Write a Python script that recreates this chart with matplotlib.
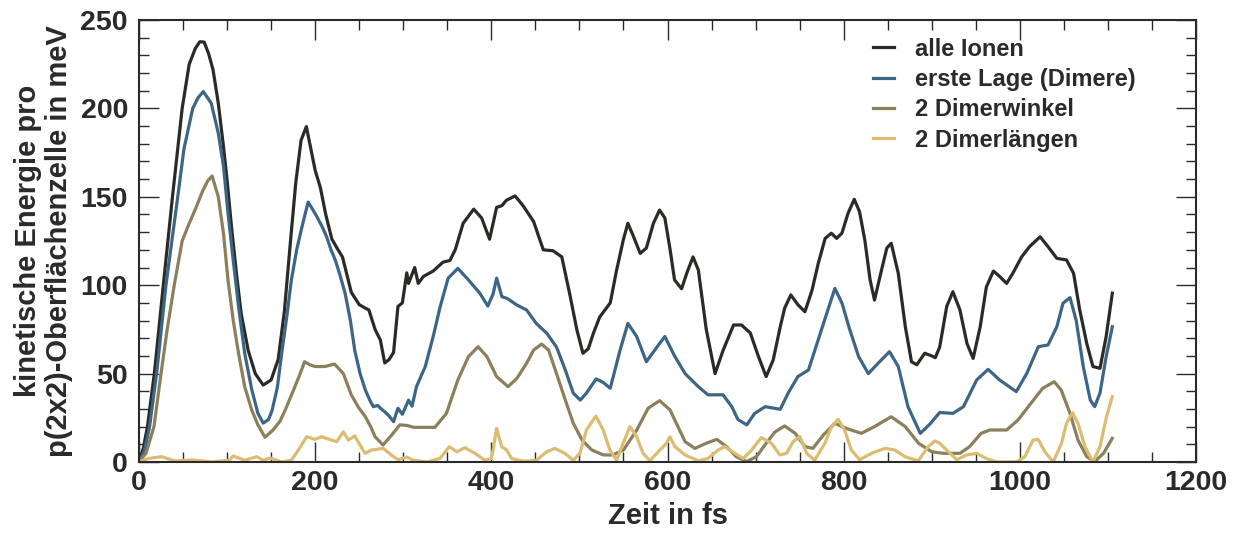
import matplotlib
matplotlib.use('Agg')
import matplotlib.pyplot as plt
from matplotlib.ticker import MultipleLocator

# kinetic energy per p(2x2) surface cell (time in fs, energy in meV)
t_alle = [0, 5, 9.6, 17.4, 27.6, 38, 49, 57, 64, 69, 74, 79, 84, 90, 96, 100, 105, 111, 116, 124, 132,
          141, 150, 158, 165, 172, 178, 184, 190, 196, 200, 206, 212, 219, 226, 231, 241, 250, 257,
          261, 268, 274, 279, 284, 289, 294, 299, 304, 306, 313, 317, 323, 334, 345, 353, 359, 368,
          380, 389, 398, 406, 412, 417, 427, 436, 448, 459, 470, 480, 489, 497, 504, 510, 516, 523,
          535, 542, 550, 555, 561, 569, 576, 584, 591, 597, 603, 608, 616, 622, 629, 635, 644, 654,
          663, 675, 684, 694, 703, 712, 720, 728, 733, 740, 748, 756, 764, 771, 779, 786, 792, 798,
          805, 812, 818, 824, 830, 835, 843, 849, 854, 862, 870, 877, 883, 892, 900, 904, 909, 917,
          924, 932, 940, 947, 955, 962, 970, 977, 985, 992, 1002, 1011, 1023, 1032, 1042, 1053,
          1061, 1068, 1076, 1083, 1091, 1098, 1105]
e_alle = [0, 8, 20, 50, 100, 150, 200, 225, 234, 237.7, 237.5, 231, 222, 203, 178, 159.5, 133, 105, 84, 63, 50,
          43.5, 46.4, 58, 85, 125, 158, 182, 189.7, 175, 165, 155, 140, 126, 120, 116, 96, 89, 87,
          86, 75, 69, 56, 58, 62, 88, 90, 107, 101, 110, 101, 105, 108, 113, 114, 120, 135,
          143, 138, 126, 144, 145, 148, 150.5, 145, 136, 120, 119.5, 116, 95, 75, 61.5, 64, 73, 82,
          90, 108, 126, 135, 128, 118, 121, 135, 142.5, 138, 120, 103, 98, 107, 116, 108.6, 75, 50,
          63, 77.5, 77.5, 73, 60, 48.3, 57.7, 76.5, 87, 94.5, 89, 85, 97, 112, 126.5, 129.4, 126.5, 129.4,
          140.7, 148.6, 141.6, 125.6, 103, 91.6, 108.6, 121, 123.7, 106.7, 76.5, 56.7, 55, 61.5, 60, 59, 65, 88,
          96.3, 86, 67, 58.6, 76.5, 99, 108, 105, 101, 106.7, 116, 121.8, 127.4, 121.8, 115.2, 114.3,
          106.7, 86, 67, 54, 53, 71, 95.5]

t_lage = [0, 6, 12, 20, 30.6, 44, 51, 61, 67, 73, 82, 90, 96, 101, 107, 113, 120, 128, 135, 141, 147,
          151, 157, 162, 168, 173, 179, 185, 192, 197, 202, 208, 213, 218, 223, 228, 234,
          240, 245, 251, 257, 262, 266, 271, 275, 279, 284, 289, 294, 299, 306, 310, 315, 325, 334,
          342, 351, 362, 374, 387, 396, 402, 406, 412, 418, 429, 440, 451, 463, 474, 484, 493, 501,
          508, 519, 527, 535, 546, 555, 565, 576, 588, 597, 608, 620, 635, 646, 663, 673, 680, 690,
          699, 711, 728, 737, 748, 760, 771, 782, 790, 798, 807, 817, 828, 839, 852, 862, 873, 887,
          898, 909, 924, 936, 951, 964, 977, 996, 1008, 1021, 1032, 1042, 1049, 1057, 1064, 1072,
          1080, 1085, 1091, 1098, 1105]
e_lage = [0, 6, 20, 50, 100, 150, 177, 200, 206, 209.5, 203, 186, 167, 141, 114, 88, 61.5, 41, 27.5, 22, 24,
          29, 42, 61.5, 83, 103, 120, 133, 147, 143, 138.7, 133, 127.4, 120, 114, 106, 95.4,
          80, 63, 50, 40.7, 35, 31.3, 32, 30, 28.4, 26, 22.8, 30.4, 27, 35, 31.6, 42.6, 54, 71,
          88, 104, 109.5, 103, 95.4, 88.2, 95, 104, 93.5, 92.5, 88.8, 86, 78.4, 72.8, 65, 52, 39, 35,
          39, 47, 45, 41.7, 63, 78.4, 71, 56.7, 65, 71, 60, 50, 42.6, 38, 38, 31.3, 24, 21,
          27.5, 31.3, 29.8, 39, 48.3, 52, 69, 86, 98.2, 90, 74.7, 59.6, 50, 55.8, 62.4, 54, 31.3, 16.2,
          21.5, 28, 27.5, 31.3, 46.4, 52.4, 46.4, 39.8, 50.2, 65.2, 66.2, 76.5, 89.8, 93, 80, 54,
          35, 31.3, 39, 59.6, 76.5]

t_winkel = [0, 8, 17, 25, 32, 40, 49, 57, 64, 72, 78, 83, 90, 96, 101, 107, 113, 120, 128, 135, 143, 152,
            160, 166, 177, 183, 188, 194, 200, 211, 222, 232, 241, 249, 257, 263, 268, 277, 287,
            296, 304, 312, 323, 336, 349, 362, 374, 385, 395, 406, 419, 429, 440, 448, 457, 465, 474,
            484, 493, 503, 514, 527, 538, 550, 565, 578, 591, 603, 609, 620, 631, 644, 656, 667, 678,
            690, 701, 712, 722, 733, 745, 756, 765, 777, 790, 803, 820, 835, 854, 870, 885, 900, 913,
            932, 943, 956, 966, 985, 998, 1011, 1026, 1039, 1047, 1057, 1066, 1076, 1085, 1095, 1105]
e_winkel = [0, 5, 20, 50, 75, 100, 125, 135, 143, 153, 159, 161.8, 150, 129, 103, 80, 61.5, 42.6, 29.4, 21, 14, 18,
            23, 29.4, 42.6, 50, 56.7, 55, 54, 54, 55.4, 50, 38, 31, 25.6, 20, 14.3, 9.6, 15.3,
            21, 20.7, 19.6, 19.6, 19.6, 27.5, 46.4, 59.6, 65.2, 59.6, 48.3, 42.6, 47.3, 55.8, 63.3, 66.7, 63.3, 50,
            35, 22, 12.4, 6.8, 4, 4, 6.8, 18, 30.4, 34.7, 29.4, 23, 11.5, 7.7, 10.6, 12.8, 8.7, 3,
            0.3, 3, 10.6, 17, 20.4, 16.2, 8.7, 7.7, 15.3, 21.9, 19, 16.2, 20, 25.6, 20, 10.6, 5.8, 4.9,
            4.9, 8.7, 16.2, 18.1, 18.1, 23.8, 32.2, 41.7, 45.4, 40.7, 27.5, 12.4, 3, 0.3, 4.9, 13.4]

t_laengen = [0, 10.6, 25.7, 41, 60, 82.5, 102.6, 107, 120, 133.6, 141, 149, 162, 173, 181, 190.4, 199.8,
             207.4, 218.7, 224.5, 232, 237.6, 245, 256.5, 264, 277.4, 286.8, 294.3, 303.8, 311.6, 326.7,
             341.7, 352.3, 360.7, 370, 381.4, 392.8, 400.3, 406, 411.7, 417.4, 423, 436.4, 451.4, 462.8,
             472.3, 483.5, 493, 500.6, 508, 518.7, 527, 534.6, 542.2, 549.7, 557.3, 565, 572.3, 580,
             589.5, 599, 602.7, 608.4, 620, 635, 646, 657.5, 665, 676.5, 686, 695.5, 706.6, 718, 727.6,
             735, 742.7, 750.3, 758, 767, 778.7, 786.2, 793.8, 801, 808.7, 818.2, 831.4, 846.8, 858,
             869.5, 884.6, 896, 903.5, 909, 917, 928.5, 939.5, 951, 962, 973.7, 996, 1005.7, 1015,
             1020.8, 1028.4, 1038, 1047.3, 1053, 1059.8, 1066, 1074, 1083, 1091, 1098.4, 1105]
e_laengen = [0, 2, 3, 0.6, 1.2, 0, 1, 3.4, 1, 3, 1, 2.3, 0, 1, 6.8, 14.3, 12.8,
             14.3, 12.4, 11.5, 17.1, 12.4, 14.7, 4.9, 6.8, 7.7, 3.8, 1.3, 2.8, 1, 0,
             2, 8.7, 5.8, 8.1, 4.9, 1, 2, 19, 8.7, 6.8, 2, 0.4, 1, 5.8,
             7.7, 4.9, 1, 4.9, 18.1, 26, 18.1, 6.8, 1, 10.6, 20, 14.3, 4.9, 0.7,
             5.8, 10.6, 14.3, 8.7, 4, 0.7, 2, 6.8, 8.7, 4.9, 2, 6.8, 13.8, 10.6, 4,
             4.9, 11.5, 14.3, 4.9, 1, 10.6, 20, 24.1, 18.1, 6.8, 1.3, 4.9, 7.7, 6.8,
             3, 0.7, 8.7, 11.9, 10.6, 6.8, 1.3, 4, 4.9, 2, 0, 0, 3, 12.4,
             12.8, 5.8, 0, 10.6, 21.9, 27.9, 21.9, 8.7, 0, 8.7, 25.6, 37]

labels = ['alle Ionen', 'erste Lage (Dimere)', '2 Dimerwinkel', '2 Dimerlängen']
colors = ['#2a2a26', '#3d6586', '#8b7f5c', '#dbbc72']
txt_color = '#2a2a2a'

plt.rcParams['font.family'] = ['Liberation Sans', 'DejaVu Sans']
plt.rcParams['font.weight'] = 'bold'

fig = plt.figure(figsize=(12.45, 5.34), dpi=100)
ax = fig.add_axes([139 / 1245, 1 - 462 / 534, (1196 - 139) / 1245, (462 - 20) / 534])

series = [(t_alle, e_alle), (t_lage, e_lage), (t_winkel, e_winkel), (t_laengen, e_laengen)]
for (t, e), lab, col in zip(series, labels, colors):
    ax.plot(t, e, color=col, lw=2.3, label=lab, solid_joinstyle='round')

ax.set_xlim(0, 1200)
ax.set_ylim(0, 250)
ax.xaxis.set_major_locator(MultipleLocator(200))
ax.xaxis.set_minor_locator(MultipleLocator(50))
ax.yaxis.set_major_locator(MultipleLocator(50))
ax.yaxis.set_minor_locator(MultipleLocator(10))

ax.tick_params(which='both', direction='in', top=True, right=True, colors=txt_color, width=1.0)
ax.tick_params(which='major', length=14.5, labelsize=20.5)
ax.tick_params(which='minor', length=7.2)
ax.tick_params(axis='x', which='major', pad=6)
ax.tick_params(axis='y', which='major', pad=8)
for lbl in ax.get_xticklabels() + ax.get_yticklabels():
    lbl.set_fontweight('bold')
for sp in ax.spines.values():
    sp.set_linewidth(1.5)
    sp.set_color(txt_color)

ax.set_xlabel('Zeit in fs', fontsize=21, fontweight='bold', color=txt_color, labelpad=4)
ax.set_ylabel('kinetische Energie pro\np(2x2)-Oberflächenzelle in meV', fontsize=21,
              fontweight='bold', color=txt_color, labelpad=5, multialignment='center',
              linespacing=1.15)

leg = ax.legend(loc='upper left', bbox_to_anchor=(0.694, 0.960), frameon=False, fontsize=17,
                handlelength=0.9, handletextpad=0.9, labelspacing=0.31, borderpad=0,
                borderaxespad=0)
for txt in leg.get_texts():
    txt.set_color(txt_color)
    txt.set_fontweight('bold')

fig.savefig('out.png', dpi=100)
